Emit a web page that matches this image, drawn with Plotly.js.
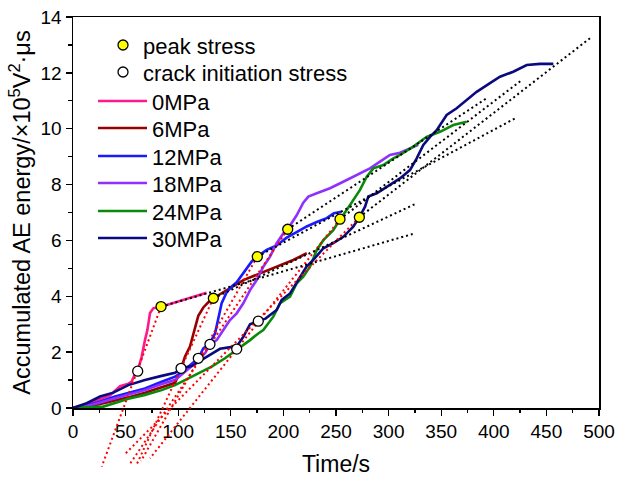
<!DOCTYPE html>
<html>
<head>
<meta charset="utf-8">
<script src="https://cdn.plot.ly/plotly-3.0.1.min.js"></script>
<style>html,body{margin:0;padding:0;background:#fff;}#chart{width:620px;height:481px;}</style>
</head>
<body>
<div id="chart"></div>
<script>
// ---- data (time in s, accumulated AE energy in 10^5 V^2·us) ----
const seriesNames = ['0MPa', '6MPa', '12MPa', '18MPa', '24MPa', '30MPa'];
const seriesColors = ['#FF1A8C', '#960000', '#1A1AFF', '#9030FF', '#0A8A0A', '#0A0A80'];

const t0 = [0, 8, 19.3, 35.2, 44.7, 52.6, 55.8, 58.9, 61.5, 65.3, 68.4, 70.7, 73.2, 76.3, 83.7, 98.6, 114.4, 127];
const e0 = [0, 0.08, 0.23, 0.45, 0.78, 0.87, 0.95, 1.22, 1.32, 1.84, 2.43, 2.79, 3.4, 3.57, 3.63, 3.81, 3.98, 4.13];

const t6 = [0, 20.9, 40, 52.6, 68.4, 84.3, 97, 101.7, 102.7, 106.5, 111.2, 116, 119.1, 123.9, 130.2, 133.4, 149.2, 161.9, 177.8, 193.6, 209.4, 222.2];
const e6 = [0, 0.1, 0.27, 0.38, 0.55, 0.74, 0.9, 1.3, 1.42, 1.84, 2.2, 2.85, 3.3, 3.6, 3.85, 3.93, 4.29, 4.58, 4.82, 5.06, 5.3, 5.54];

const t12 = [0, 20.9, 40, 52.6, 68.4, 84.3, 97, 106.5, 116, 119.1, 123.9, 130.2, 135, 138.1, 141.3, 146.1, 150.9, 155.6, 160.4, 165.1, 169.9, 175.2, 184.1, 193.6, 203.1, 212.6, 222.2, 231.7, 241.2, 248, 255.4];
const e12 = [0, 0.17, 0.41, 0.53, 0.7, 0.94, 1.12, 1.38, 1.66, 1.78, 2.14, 2.32, 2.67, 3.2, 3.75, 4.15, 4.35, 4.5, 4.75, 5.0, 5.25, 5.42, 5.66, 5.82, 6.1, 6.3, 6.5, 6.66, 6.8, 6.97, 7.03];

const t18 = [0, 20.9, 40, 52.6, 68.4, 84.3, 97, 106.5, 116, 119.1, 125.5, 130.2, 136.6, 142.9, 149.2, 155.6, 161.9, 168.3, 174.6, 180.9, 187.3, 193.6, 199.9, 204.1, 212.6, 218.9, 223.7, 231.7, 244.3, 256.9, 269.6, 282.3, 291.8, 301.3, 310.8, 320, 328.2];
const e18 = [0, 0.14, 0.35, 0.47, 0.64, 0.86, 1.0, 1.3, 1.6, 1.75, 1.96, 2.28, 2.43, 2.79, 3.15, 3.39, 3.75, 4.22, 4.58, 5.06, 5.42, 5.9, 6.25, 6.4, 6.9, 7.35, 7.57, 7.69, 7.87, 8.1, 8.34, 8.58, 8.82, 9.06, 9.14, 9.3, 9.42];

const t24 = [0, 28.8, 41.5, 52.6, 68.4, 84.3, 97, 106.5, 119.1, 131.8, 144.5, 155.6, 168.3, 176.1, 180.9, 190.4, 196.8, 206.3, 212.6, 218.9, 225.3, 231.7, 238, 247.4, 253.8, 260.2, 266.4, 272.8, 279.2, 285.5, 295, 304.5, 310.8, 323.5, 336.2, 348.9, 361.5, 374.2];
const e24 = [0, 0.05, 0.2, 0.33, 0.47, 0.64, 0.82, 1.0, 1.24, 1.48, 1.78, 2.08, 2.43, 2.67, 2.79, 3.27, 3.75, 3.99, 4.46, 4.7, 5.06, 5.66, 6.01, 6.37, 6.76, 7.09, 7.45, 7.81, 8.28, 8.58, 8.7, 8.94, 9.06, 9.36, 9.71, 9.89, 10.13, 10.25];

const t30 = [0, 13, 25.7, 38.3, 52.6, 68.4, 84.3, 97, 103.3, 112.8, 122.3, 130.2, 139.7, 150, 155.6, 161.9, 168.3, 176.1, 183, 193.6, 198.4, 206.3, 215.8, 222, 228.4, 238, 247.4, 257, 266.4, 272.2, 277.6, 280.7, 288.7, 298.2, 310.8, 320.3, 326.7, 333, 339.4, 345.7, 355.2, 364.7, 374.2, 383.7, 396.4, 405.9, 418.5, 431.3, 443.9, 456.6];
const e30 = [0, 0.17, 0.41, 0.55, 0.82, 1.0, 1.15, 1.26, 1.42, 1.5, 1.72, 1.9, 2.12, 2.18, 2.2, 2.55, 3.0, 3.11, 3.2, 3.51, 3.87, 4.1, 4.7, 5.06, 5.3, 5.72, 5.9, 6.13, 6.49, 6.83, 7.21, 7.57, 7.69, 7.93, 8.22, 8.52, 8.94, 9.42, 9.71, 9.95, 10.49, 10.73, 11.03, 11.32, 11.63, 11.86, 12.04, 12.28, 12.32, 12.32];

const seriesT = [t0, t6, t12, t18, t24, t30];
const seriesE = [e0, e6, e12, e18, e24, e30];

// characteristic points
const peakT = [83.7, 133.4, 175.2, 204.1, 253.8, 272.2];
const peakE = [3.63, 3.93, 5.42, 6.40, 6.76, 6.83];
const crackT = [61.5, 102.7, 119.1, 130.2, 155.6, 176.1];
const crackE = [1.32, 1.42, 1.78, 2.28, 2.11, 3.11];

// fitted line end points (the other end is the peak point)
const blackEndT = [322.9, 325.1, 420.2, 393.2, 426.5, 491.4];
const blackEndE = [6.23, 7.30, 10.37, 11.09, 11.74, 13.24];
const redEndT = [27.3, 60.8, 64.6, 54.2, 73.2, 49.4];
const redEndE = [-2.10, -2.0, -1.9, -2.0, -1.80, -1.65];

const xTicks = [0, 50, 100, 150, 200, 250, 300, 350, 400, 450, 500];
const yTicks = [0, 2, 4, 6, 8, 10, 12, 14];
const markerLegendNames = ['peak stress', 'crack initiation stress'];

// ---- layout helpers ----
const W = 620, H = 481;
const M = {l: 73, r: 21, t: 17, b: 8};
const plotBottomPx = 408;             // pixel row of y = 0
const areaH = H - M.t - M.b;
const areaW = W - M.l - M.r;
const mainDomain0 = (H - M.b - plotBottomPx) / areaH;
const yMax = 14;
const pxPerUnit = (plotBottomPx - M.t) / yMax;
const y2Min = -(H - M.b - plotBottomPx) / pxPerUnit;
function px2paperX(px) { return (px - M.l) / areaW; }
function px2paperY(py) { return (H - M.b - py) / areaH; }

const FONT = 'Arial, "Liberation Sans", sans-serif';
const LEG_FONT = 22;
const legItemHalf = (LEG_FONT * 1.3 + 3) / 2 + 5;
// legend row centres (px)
const markerRows = [45, 72];
const lineRows = [101, 128, 156, 183, 211, 238];

const traces = [];
const layout = {
  width: W, height: H,
  margin: M,
  paper_bgcolor: '#ffffff',
  plot_bgcolor: 'rgba(0,0,0,0)',
  font: {family: FONT, color: '#000', size: 19},
  showlegend: true,
  xaxis: {
    domain: [0, 1], anchor: 'y', range: [0, 500],
    tickmode: 'array', tickvals: xTicks, ticktext: xTicks.map(String),
    ticks: 'outside', ticklen: 6, tickwidth: 1.3, tickcolor: '#000',
    minor: {tickmode: 'linear', tick0: 25, dtick: 50, ticks: 'outside', ticklen: 3.5, tickwidth: 1.3, tickcolor: '#000', showgrid: false},
    showline: true, linecolor: '#000', linewidth: 1.5, mirror: true,
    showgrid: false, zeroline: false, automargin: false,
    tickfont: {family: FONT, size: 19, color: '#000'},
    title: {text: 'Time/s', font: {family: FONT, size: 23, color: '#000'}, standoff: 14}
  },
  yaxis: {
    domain: [mainDomain0, 1], anchor: 'x', range: [0, yMax],
    tickmode: 'array', tickvals: yTicks, ticktext: yTicks.map(String),
    ticks: 'outside', ticklen: 6, tickwidth: 1.3, tickcolor: '#000',
    minor: {tickmode: 'linear', tick0: 1, dtick: 2, ticks: 'outside', ticklen: 3.5, tickwidth: 1.3, tickcolor: '#000', showgrid: false},
    showline: true, linecolor: '#000', linewidth: 1.5, mirror: true,
    showgrid: false, zeroline: false, automargin: false,
    tickfont: {family: FONT, size: 19, color: '#000'},
    title: {text: 'Accumulated AE energy/×10<sup>5</sup>V<sup>2</sup>·μs', font: {family: FONT, size: 23.5, color: '#000'}, standoff: 3}
  },
  xaxis2: {domain: [0, 1], anchor: 'y2', range: [0, 500], visible: false, showgrid: false, zeroline: false},
  yaxis2: {domain: [0, 1], anchor: 'x2', range: [y2Min, yMax], visible: false, showgrid: false, zeroline: false}
};

function legendBox(leftPx, rowPx, itemWidth) {
  return {
    x: px2paperX(leftPx), y: px2paperY(rowPx - legItemHalf), xanchor: 'left', yanchor: 'top',
    bgcolor: 'rgba(0,0,0,0)', borderwidth: 0, itemwidth: itemWidth,
    font: {family: FONT, size: LEG_FONT, color: '#000'}
  };
}

// main curves
for (let i = 0; i < seriesNames.length; i++) {
  const key = 'legend' + (i + 3);
  layout[key] = legendBox(93, lineRows[i], 49);
  traces.push({
    x: seriesT[i], y: seriesE[i], type: 'scatter', mode: 'lines',
    name: seriesNames[i], legend: key,
    line: {color: seriesColors[i], width: 2.6},
    xaxis: 'x', yaxis: 'y', hoverinfo: 'skip'
  });
}
// red dotted fitted lines (extend below the axis)
const rx = [], ry = [];
for (let i = 0; i < peakT.length; i++) {
  rx.push(peakT[i], redEndT[i], null);
  ry.push(peakE[i], redEndE[i], null);
}
traces.push({x: rx, y: ry, type: 'scatter', mode: 'lines', showlegend: false,
  line: {color: '#FF0000', width: 2, dash: '2px,3px'}, xaxis: 'x2', yaxis: 'y2', hoverinfo: 'skip'});
// black dotted lines
const bx = [], by = [];
for (let i = 0; i < peakT.length; i++) {
  bx.push(peakT[i], blackEndT[i], null);
  by.push(peakE[i], blackEndE[i], null);
}
traces.push({x: bx, y: by, type: 'scatter', mode: 'lines', showlegend: false,
  line: {color: '#000000', width: 2, dash: '2px,3px'}, xaxis: 'x2', yaxis: 'y2', hoverinfo: 'skip'});
// markers
layout.legend = legendBox(103, markerRows[0], 30);
layout.legend2 = legendBox(103, markerRows[1], 30);
traces.push({x: peakT, y: peakE, type: 'scatter', mode: 'markers', name: markerLegendNames[0], legend: 'legend',
  marker: {color: '#FFFF00', size: 10, line: {color: '#000', width: 1.3}}, xaxis: 'x2', yaxis: 'y2', hoverinfo: 'skip'});
traces.push({x: crackT, y: crackE, type: 'scatter', mode: 'markers', name: markerLegendNames[1], legend: 'legend2',
  marker: {color: '#FFFFFF', size: 10, line: {color: '#000', width: 1.3}}, xaxis: 'x2', yaxis: 'y2', hoverinfo: 'skip'});

Plotly.newPlot('chart', traces, layout, {displayModeBar: false, staticPlot: true});
</script>
</body>
</html>
